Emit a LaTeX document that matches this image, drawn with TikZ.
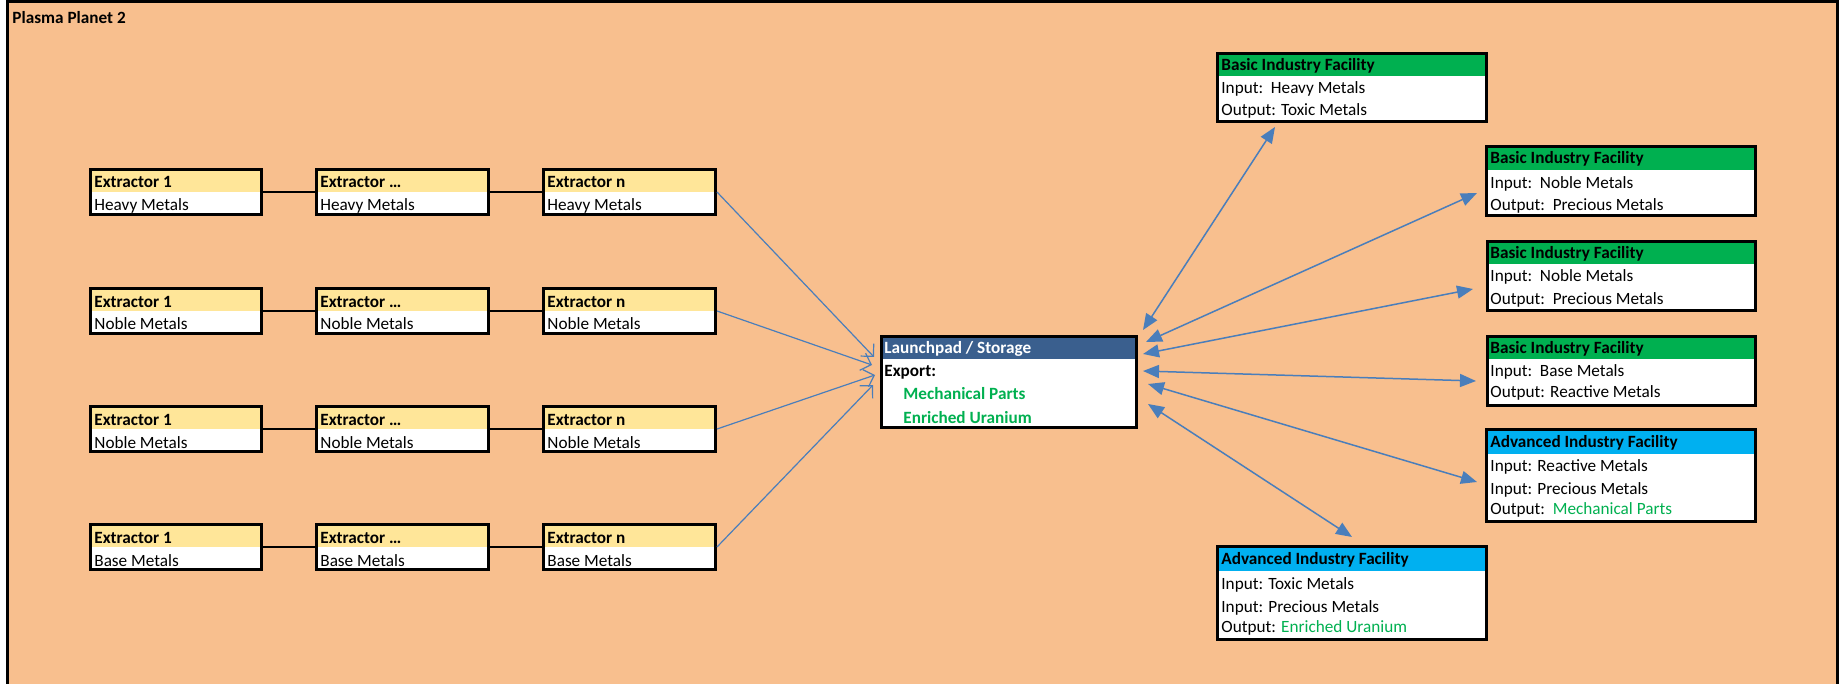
\documentclass[tikz,border=0pt]{standalone}
\usepackage{fontspec}
\setmainfont{Carlito}
\usetikzlibrary{arrows.meta,fit}
\definecolor{bgpeach}{HTML}{F8BF8E}
\definecolor{hdryellow}{HTML}{FFE699}
\definecolor{hdrgreen}{HTML}{00B050}
\definecolor{hdrblue}{HTML}{00B0F0}
\definecolor{hdrnavy}{HTML}{3A5F8E}
\definecolor{txtgreen}{HTML}{00B050}
\definecolor{arrowblue}{HTML}{4A7EBB}
\newcommand\mkbox[7]{%
  \fill[white] (#2,#3) rectangle (#4,#5);
  \fill[#7] (#2,#3) rectangle (#4,#6);
  \node[boxframe, fit={(#2+1.5,#3+1.5) (#4-1.5,#5-1.5)}] (#1) {};
}
\tikzset{
  boxframe/.style={draw=black, line width=1.5pt, inner sep=0pt},
  txt/.style={anchor=base west, inner sep=0pt, font=\fontsize{8.6}{10}\selectfont},
  btxt/.style={anchor=base west, inner sep=0pt, font=\fontsize{8.6}{10}\selectfont\bfseries},
  link/.style={draw=black, line width=0.75pt},
  feed/.style={draw=arrowblue, line width=0.6pt, -{Straight Barb[length=4.5pt,width=9pt]}},
  trade/.style={draw=arrowblue, line width=0.75pt, {Triangle[length=8pt,width=6.5pt]}-{Triangle[length=8pt,width=6.5pt]}}
}
\begin{document}
\begin{tikzpicture}[x=0.5pt,y=-0.5pt,line join=miter]
\useasboundingbox (0,0) rectangle (1843,684);
\fill[white] (0,0) rectangle (1843,684);
\fill[bgpeach] (7.5,1.5) rectangle (1837.5,684);
\draw[line width=1.5pt] (7.5,684) -- (7.5,1.5) -- (1837.5,1.5) -- (1837.5,684);
\node[btxt] (title) at (12,24) {Plasma Planet 2};

% extractors
\foreach \r/\T/\m in {1/168/Heavy Metals, 2/287/Noble Metals, 3/405/Noble Metals, 4/523/Base Metals}{
  \foreach \c/\xa/\xb/\lab in {1/89/263/Extractor 1, 2/315/490/Extractor …, 3/542/717/Extractor n}{
    \mkbox{e\r\c}{\xa}{\T}{\xb}{\T+48}{\T+24}{hdryellow}
    \node[btxt] (e\r\c t) at (\xa+5,\T+20) {\lab};
    \node[txt] (e\r\c m) at (\xa+5,\T+43) {\m};
  }
  \draw[link] (e\r1.east) -- (e\r2.west);
  \draw[link] (e\r2.east) -- (e\r3.west);
}

% launchpad
\mkbox{lp}{880}{335}{1138}{429}{359}{hdrnavy}
\node[btxt, text=white] (lpt) at (884,354) {Launchpad / Storage};
\node[btxt] (lpx) at (884,377) {Export:};
\node[btxt, text=txtgreen] (lpm) at (903,400) {Mechanical Parts};
\node[btxt, text=txtgreen] (lpu) at (903,423) {Enriched Uranium};

% basic industry facilities
\mkbox{bf1}{1216}{52}{1488}{123}{76}{hdrgreen}
\node[btxt] (bf1t) at (1221,71) {Basic Industry Facility};
\node[txt] (bf1i) at (1221,94) {Input:\ \ Heavy Metals};
\node[txt] (bf1o) at (1221,116) {Output: Toxic Metals};

\mkbox{bf2}{1485}{145}{1757}{217}{170}{hdrgreen}
\node[btxt] (bf2t) at (1490,164) {Basic Industry Facility};
\node[txt] (bf2i) at (1490,189) {Input:\ \ Noble Metals};
\node[txt] (bf2o) at (1490,211) {Output:\ \ Precious Metals};

\mkbox{bf3}{1486}{240}{1757}{312}{264}{hdrgreen}
\node[btxt] (bf3t) at (1490,259) {Basic Industry Facility};
\node[txt] (bf3i) at (1490,282) {Input:\ \ Noble Metals};
\node[txt] (bf3o) at (1490,305) {Output:\ \ Precious Metals};

\mkbox{bf4}{1486}{335}{1757}{407}{359}{hdrgreen}
\node[btxt] (bf4t) at (1490,354) {Basic Industry Facility};
\node[txt] (bf4i) at (1490,377) {Input:\ \ Base Metals};
\node[txt] (bf4o) at (1490,398) {Output: Reactive Metals};

% advanced industry facilities
\mkbox{af1}{1485}{428}{1757}{523}{454}{hdrblue}
\node[btxt] (af1t) at (1490,447) {Advanced Industry Facility};
\node[txt] (af1a) at (1490,471) {Input: Reactive Metals};
\node[txt] (af1b) at (1490,494) {Input: Precious Metals};
\node[txt] (af1o) at (1490,514) {Output:\ \ \textcolor{txtgreen}{Mechanical Parts}};

\mkbox{af2}{1216}{545}{1488}{641}{571}{hdrblue}
\node[btxt] (af2t) at (1221,564) {Advanced Industry Facility};
\node[txt] (af2a) at (1221,589) {Input: Toxic Metals};
\node[txt] (af2b) at (1221,612) {Input: Precious Metals};
\node[txt] (af2o) at (1221,632) {Output: \textcolor{txtgreen}{Enriched Uranium}};

% connector ends
\coordinate (lpL1) at (874,357);
\coordinate (lpL2) at (872,365);
\coordinate (lpL3) at (875,375);
\coordinate (lpL4) at (873,385);
\coordinate (lpR1) at (1143,330);
\coordinate (lpR2) at (1146,342);
\coordinate (lpR3) at (1143,354);
\coordinate (lpR4) at (1143,371);
\coordinate (lpR5) at (1148,384);
\coordinate (lpR6) at (1148,404);
\coordinate (bf1p) at (1275,127);
\coordinate (bf2p) at (1477,193);
\coordinate (bf3p) at (1473,289);
\coordinate (bf4p) at (1476,381);
\coordinate (af1p) at (1477,482);
\coordinate (af2p) at (1352,537);

\draw[feed] (e13.east) -- (lpL1);
\draw[feed] (e23.east) -- (lpL2);
\draw[feed] (e33.east) -- (lpL3);
\draw[feed] (e43.east) -- (lpL4);

\draw[trade] (lpR1) -- (bf1p);
\draw[trade] (lpR2) -- (bf2p);
\draw[trade] (lpR3) -- (bf3p);
\draw[trade] (lpR4) -- (bf4p);
\draw[trade] (lpR5) -- (af1p);
\draw[trade] (lpR6) -- (af2p);
\end{tikzpicture}
\end{document}
